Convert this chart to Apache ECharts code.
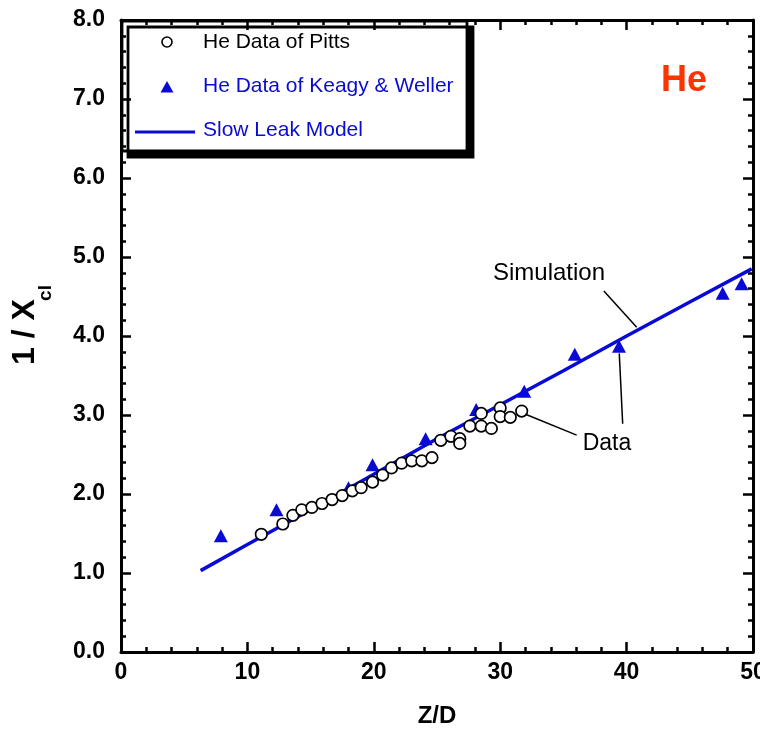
<!DOCTYPE html>
<html>
<head>
<meta charset="utf-8">
<script src="https://cdn.jsdelivr.net/npm/echarts@6/dist/echarts.min.js"></script>
<style>
  html, body { margin: 0; padding: 0; background: #fff; }
  #chart { width: 760px; height: 729px; }
</style>
</head>
<body>
<div id="chart"></div>
<script>
// He data of Pitts: Z/D and 1/X_cl
const pittsZD  = [11.1, 12.8, 13.6, 14.3, 15.1, 15.9, 16.7, 17.5, 18.3, 19.0, 19.9, 20.7, 21.4, 22.2, 23.0, 23.8, 24.6, 25.3, 26.1, 26.8, 26.8, 27.6, 28.5, 28.5, 29.3, 30.0, 30.0, 30.8, 31.7];
const pittsInv = [1.49, 1.62, 1.73, 1.80, 1.83, 1.88, 1.93, 1.98, 2.04, 2.08, 2.15, 2.24, 2.33, 2.39, 2.42, 2.42, 2.46, 2.68, 2.73, 2.70, 2.64, 2.86, 2.86, 3.02, 2.83, 3.09, 2.98, 2.97, 3.05];

// He data of Keagy & Weller
const keagyZD  = [7.9, 12.3, 18.0, 19.9, 24.1, 28.1, 31.9, 35.9, 39.4, 47.6, 49.1];
const keagyInv = [1.47, 1.80, 2.08, 2.37, 2.70, 3.07, 3.30, 3.77, 3.87, 4.54, 4.66];

// Slow leak model curve
const modelZD  = [6.3, 10, 15, 20, 25, 30, 35, 40, 45, 49.9];
const modelInv = [1.03, 1.36, 1.80, 2.25, 2.70, 3.13, 3.56, 4.00, 4.43, 4.85];

// Leader lines for the "Simulation" and "Data" callouts (Z/D, 1/X_cl)
const simulationLeader = [[38.2, 4.57], [40.8, 4.11]];
const dataLeaderCircle = [[32.0, 3.01], [36.05, 2.745]];
const dataLeaderTriangle = [[39.69, 2.89], [39.42, 3.78]];

const zip = (xs, ys) => xs.map((x, i) => [x, ys[i]]);

const FONT = '"Liberation Sans", Arial, Helvetica, sans-serif';
const BLUE = '#0a0ad6';

const tickStyle = { inside: true, length: 10, lineStyle: { color: '#000', width: 2.5 } };
const minorStyle = { show: true, splitNumber: 5, length: 5, lineStyle: { color: '#000', width: 2.5 } };
const axisLineStyle = { show: true, onZero: false, lineStyle: { color: '#000', width: 3 } };
const labelStyle = { color: '#000', fontSize: 23, fontWeight: 'bold', fontFamily: FONT };

const chart = echarts.init(document.getElementById('chart'), null, { renderer: 'canvas' });

chart.setOption({
  animation: false,
  backgroundColor: '#fff',
  grid: { left: 121, right: 7, top: 20, bottom: 77, containLabel: false, outerBoundsMode: 'none' },
  xAxis: [
    {
      type: 'value', min: 0, max: 50, interval: 10, position: 'bottom',
      axisLine: axisLineStyle, axisTick: tickStyle, minorTick: minorStyle,
      splitLine: { show: false }, minorSplitLine: { show: false },
      axisLabel: Object.assign({ margin: 9, showMinLabel: true, showMaxLabel: true }, labelStyle),
      name: 'Z/D', nameLocation: 'middle', nameGap: 52,
      nameTextStyle: { color: '#000', fontSize: 24, fontWeight: 'bold', fontFamily: FONT }
    },
    {
      type: 'value', min: 0, max: 50, interval: 10, position: 'top',
      axisLine: axisLineStyle, axisTick: tickStyle, minorTick: minorStyle,
      splitLine: { show: false }, minorSplitLine: { show: false },
      axisLabel: { show: false }
    }
  ],
  yAxis: [
    {
      type: 'value', min: 0, max: 8, interval: 1, position: 'left',
      axisLine: axisLineStyle, axisTick: tickStyle, minorTick: minorStyle,
      splitLine: { show: false }, minorSplitLine: { show: false },
      axisLabel: Object.assign({
        margin: 16, showMinLabel: true, showMaxLabel: true,
        formatter: v => v.toFixed(1)
      }, labelStyle)
    },
    {
      type: 'value', min: 0, max: 8, interval: 1, position: 'right',
      axisLine: axisLineStyle, axisTick: tickStyle, minorTick: minorStyle,
      splitLine: { show: false }, minorSplitLine: { show: false },
      axisLabel: { show: false }
    }
  ],
  series: [
    {
      name: 'Slow Leak Model', type: 'line', xAxisIndex: 0, yAxisIndex: 0,
      data: zip(modelZD, modelInv), showSymbol: false, symbol: 'none',
      lineStyle: { color: BLUE, width: 3.5 }, z: 2, silent: true,
      markLine: {
        silent: true, symbol: ['none', 'none'], label: { show: false },
        lineStyle: { color: '#000', width: 1.5, type: 'solid' },
        data: [
          [{ coord: simulationLeader[0] }, { coord: simulationLeader[1] }],
          [{ coord: dataLeaderCircle[0] }, { coord: dataLeaderCircle[1] }],
          [{ coord: dataLeaderTriangle[0] }, { coord: dataLeaderTriangle[1] }]
        ]
      }
    },
    {
      name: 'He Data of Keagy & Weller', type: 'scatter', xAxisIndex: 0, yAxisIndex: 0,
      data: zip(keagyZD, keagyInv), symbol: 'triangle', symbolSize: [14, 13],
      itemStyle: { color: BLUE, opacity: 1 }, z: 3
    },
    {
      name: 'He Data of Pitts', type: 'scatter', xAxisIndex: 0, yAxisIndex: 0,
      data: zip(pittsZD, pittsInv), symbol: 'circle', symbolSize: 11.5,
      itemStyle: { color: '#fff', borderColor: '#000', borderWidth: 1.7, opacity: 1 }, z: 4
    }
  ],
  graphic: [
    // legend box with drop shadow
    {
      type: 'group', z: 100,
      children: [
        {
          type: 'rect', shape: { x: 122, y: 21, width: 345, height: 130 },
          style: { fill: '#fff', stroke: '#000', lineWidth: 2.8,
                   shadowColor: '#000', shadowOffsetX: 6, shadowOffsetY: 6, shadowBlur: 0 }
        },
        {
          type: 'circle', shape: { cx: 167, cy: 42, r: 5 },
          style: { fill: '#fff', stroke: '#000', lineWidth: 1.6 }
        },
        {
          type: 'polygon', shape: { points: [[160.5, 92.5], [173.5, 92.5], [167, 81]] },
          style: { fill: BLUE }
        },
        {
          type: 'line', shape: { x1: 135, y1: 132, x2: 195, y2: 132 },
          style: { stroke: BLUE, lineWidth: 3 }
        },
        {
          type: 'text', x: 203, y: 42,
          style: { text: 'He Data of Pitts', fill: '#000', fontSize: 21, fontFamily: FONT, verticalAlign: 'middle' }
        },
        {
          type: 'text', x: 203, y: 86,
          style: { text: 'He Data of Keagy & Weller', fill: BLUE, fontSize: 21, fontFamily: FONT, verticalAlign: 'middle' }
        },
        {
          type: 'text', x: 203, y: 130,
          style: { text: 'Slow Leak Model', fill: BLUE, fontSize: 21, fontFamily: FONT, verticalAlign: 'middle' }
        }
      ]
    },
    {
      type: 'text', x: 684, y: 81, z: 100,
      style: { text: 'He', fill: '#ff3300', fontSize: 36, fontWeight: 'bold', fontFamily: FONT,
               align: 'center', verticalAlign: 'middle' }
    },
    {
      type: 'text', x: 549, y: 273, z: 100,
      style: { text: 'Simulation', fill: '#000', fontSize: 24, fontFamily: FONT,
               align: 'center', verticalAlign: 'middle' }
    },
    {
      type: 'text', x: 607, y: 444, z: 100,
      style: { text: 'Data', fill: '#000', fontSize: 23, fontFamily: FONT,
               align: 'center', verticalAlign: 'middle' }
    },
    // y-axis title: 1 / X with subscript cl
    {
      type: 'text', x: 25, y: 332, rotation: Math.PI / 2, z: 100,
      style: { text: '1 / X', fill: '#000', fontSize: 32, fontWeight: 'bold', fontFamily: FONT,
               align: 'center', verticalAlign: 'middle' }
    },
    {
      type: 'text', x: 46, y: 293, rotation: Math.PI / 2, z: 100,
      style: { text: 'cl', fill: '#000', fontSize: 19, fontWeight: 'bold', fontFamily: FONT,
               align: 'center', verticalAlign: 'middle' }
    }
  ]
});
</script>
</body>
</html>
